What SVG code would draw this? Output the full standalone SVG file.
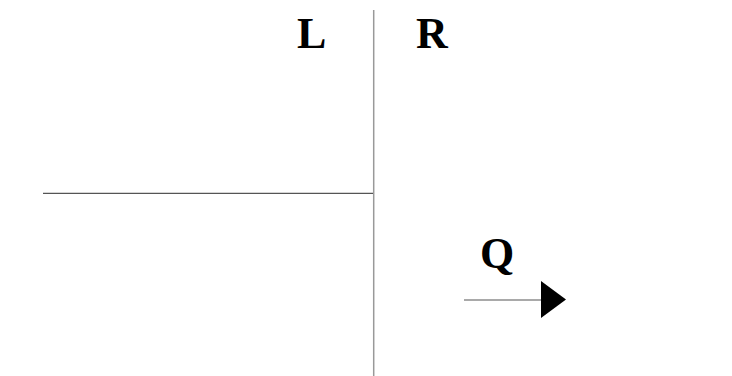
<svg xmlns="http://www.w3.org/2000/svg" width="732" height="376" viewBox="0 0 732 376">
  <style>
    .lbl { font-family: "Liberation Serif", "Times New Roman", serif; font-weight: bold; font-size: 44px; fill: #000; }
    .wall { stroke: #999; stroke-width: 1.5; fill: none; }
    .rule { stroke: #555; stroke-width: 1.2; fill: none; }
    .flow { stroke: #555; stroke-width: 1.2; fill: none; }
  </style>
  <rect width="732" height="376" fill="#fff"/>
  <g id="labels">
    <text id="label-L" class="lbl" x="297" y="48">L</text>
    <text id="label-R" class="lbl" x="416" y="48">R</text>
    <text id="label-Q" class="lbl" x="480" y="268">Q</text>
  </g>
  <g id="connectors">
    <line class="wall" x1="373.7" y1="10" x2="373.7" y2="376"/>
    <line class="rule" x1="43" y1="193.3" x2="373" y2="193.3"/>
    <line class="flow" x1="464" y1="300" x2="542" y2="300"/>
    <polygon points="541,281 566,299.5 541,318" fill="#000"/>
  </g>
</svg>
